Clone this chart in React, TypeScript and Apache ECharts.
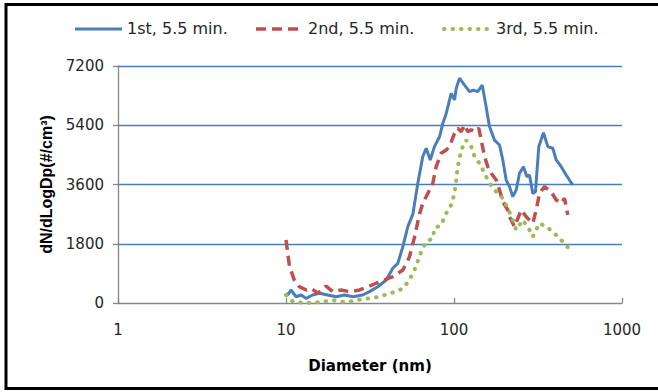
import React, { useEffect, useRef } from "react";
import * as echarts from "echarts";

const seriesNames = ["1st, 5.5 min.", "2nd, 5.5 min.", "3rd, 5.5 min."];
const xTickLabels = ["1", "10", "100", "1000"];
const yTicks = [0, 1800, 3600, 5400, 7200];

const diam1 = [10.0, 10.25, 10.7, 11.5, 12.3, 13.2, 14.4, 15.8, 17.7, 19.9, 22.3, 25.0, 28.6, 31.4, 35.2, 39.5, 43.2, 46.3, 49.6, 53.1, 56.9, 60.9, 65.2, 68.3, 72.2, 76.5, 82.0, 85.8, 89.9, 96.2, 100.7, 103.1, 107.8, 115.5, 123.7, 130.7, 138.5, 147.2, 154.0, 162.6, 174.2, 186.6, 195.2, 204.5, 214.0, 223.9, 234.6, 245.5, 259.2, 271.2, 281.4, 294.4, 305.5, 319.7, 341.0, 361.7, 387.4, 405.9, 434.6, 465.4, 486.9, 509.4];
const vals1 = [290, 243, 395, 190, 243, 140, 243, 295, 243, 190, 243, 190, 243, 345, 495, 700, 1055, 1205, 1710, 2320, 2700, 3640, 4450, 4700, 4345, 4750, 5050, 5460, 5760, 6370, 6170, 6520, 6830, 6620, 6420, 6470, 6420, 6620, 6070, 5360, 4950, 4800, 4345, 3735, 3535, 3230, 3435, 3940, 4140, 3840, 3890, 3330, 3380, 4750, 5175, 4750, 4700, 4345, 4140, 3890, 3735, 3585];

const diam2 = [10.0, 10.5, 11.2, 12.0, 13.2, 14.1, 15.5, 17.3, 19.0, 21.3, 23.9, 27.4, 30.7, 34.4, 38.6, 43.2, 49.6, 54.3, 58.2, 62.3, 65.2, 71.5, 74.8, 78.3, 83.9, 89.9, 94.0, 100.7, 105.3, 110.4, 115.5, 120.8, 126.6, 132.4, 140.4, 145.2, 151.9, 158.9, 166.5, 178.3, 186.6, 195.2, 209.0, 214.0, 229.2, 251.2, 269.0, 294.4, 308.5, 322.8, 345.7, 379.0, 405.9, 434.6, 454.7, 475.7];
const vals2 = [1915, 1100, 700, 495, 395, 445, 295, 515, 345, 395, 345, 395, 495, 600, 700, 800, 1000, 1400, 2000, 2700, 3030, 3435, 3640, 4140, 4550, 4650, 4750, 5155, 5310, 5205, 5410, 5205, 5260, 5205, 5310, 4950, 4450, 4140, 3940, 3735, 3435, 3080, 2825, 2620, 2320, 2825, 2620, 2420, 2825, 3330, 3535, 3380, 3130, 3030, 3180, 2675];

const diam3 = [10.0, 11.0, 12.6, 14.4, 16.6, 19.0, 21.3, 23.9, 28.0, 31.4, 36.0, 41.3, 45.3, 49.6, 54.3, 58.2, 63.8, 68.3, 74.8, 76.5, 83.9, 89.9, 96.2, 100.7, 103.1, 105.3, 110.4, 118.2, 126.6, 132.4, 141.8, 151.9, 162.6, 174.2, 195.2, 209.0, 223.9, 234.6, 256.7, 281.4, 294.4, 322.8, 353.9, 387.4, 414.9, 465.4, 498.4];
const vals3 = [243, 40, 10, 10, 40, 90, 40, 40, 110, 140, 190, 295, 345, 445, 700, 1000, 1560, 1860, 1965, 2270, 2370, 2725, 2980, 3330, 3735, 4140, 4650, 4950, 4750, 4450, 4245, 3940, 3640, 3435, 3180, 2880, 2520, 2220, 2520, 2220, 2015, 2420, 2320, 2165, 2015, 1760, 1560];

const colors = ["#4a7ebb", "#c0504d", "#9bbb59"];

function zip(xs: number[], ys: number[]) {
  return xs.map((x, i) => [x, ys[i]]);
}

export default function App() {
  const ref = useRef<HTMLDivElement>(null);
  useEffect(() => {
    if (!ref.current) return;
    const chart = echarts.init(ref.current, null, { renderer: "svg" });
    const font = "DejaVu Sans";
    const lineStyles = [
      { width: 3 },
      { width: 3.5, type: [10, 6] as number[] },
      { width: 4, type: [0.5, 8] as number[], cap: "round" },
    ];
    const legendX = [75, 256, 444];
    const legendGraphics: any[] = [];
    seriesNames.forEach((n, i) => {
      const ls: any = lineStyles[i];
      legendGraphics.push({
        type: "line",
        shape: { x1: legendX[i], y1: 29, x2: legendX[i] + 47, y2: 29 },
        style: {
          stroke: colors[i],
          lineWidth: ls.width,
          lineDash: ls.type ?? null,
          lineCap: ls.cap ?? "butt",
        },
        silent: true,
      });
      legendGraphics.push({
        type: "text",
        x: legendX[i] + 52,
        y: 28,
        style: {
          text: n,
          fontFamily: font,
          fontSize: 16,
          fill: "#262626",
          verticalAlign: "middle",
          align: "left",
        },
        silent: true,
      });
    });
    chart.setOption({
      animation: false,
      backgroundColor: "#ffffff",
      textStyle: { fontFamily: font },
      grid: { left: 118, right: 36, top: 66, bottom: 89 },
      xAxis: {
        type: "log",
        logBase: 10,
        min: 1,
        max: 1000,
        name: "Diameter (nm)",
        nameLocation: "middle",
        nameGap: 55,
        nameTextStyle: { fontFamily: font, fontSize: 15, fontWeight: "bold", color: "#000" },
        axisLine: { show: true, lineStyle: { color: "#868686", width: 1.3 } },
        axisTick: { show: true, inside: true, length: 5, lineStyle: { color: "#868686", width: 1.3 } },
        minorTick: { show: false },
        splitLine: { show: false },
        axisLabel: {
          margin: 19,
          fontFamily: font,
          fontSize: 15,
          color: "#262626",
          formatter: (v: number) => {
            const idx = Math.round(Math.log10(v));
            return xTickLabels[idx] ?? String(v);
          },
        },
      },
      yAxis: {
        type: "value",
        min: yTicks[0],
        max: yTicks[yTicks.length - 1],
        interval: 1800,
        name: "dN/dLogDp(#/cm³)",
        nameLocation: "middle",
        nameGap: 64,
        nameTextStyle: { fontFamily: "Liberation Sans", fontSize: 16, fontWeight: "bold", color: "#000" },
        axisLine: { show: true, lineStyle: { color: "#868686", width: 1.3 } },
        axisTick: { show: true, inside: false, length: 5, lineStyle: { color: "#868686", width: 1.3 } },
        splitLine: { show: true, showMinLine: false, lineStyle: { color: "#4a7ebb", width: 1.3 } },
        axisLabel: {
          margin: 14,
          fontFamily: font,
          fontSize: 15,
          color: "#262626",
          formatter: (v: number) => String(v),
        },
      },
      series: [
        {
          name: seriesNames[0],
          type: "line",
          data: zip(diam1, vals1),
          symbol: "none",
          color: colors[0],
          lineStyle: { color: colors[0], ...lineStyles[0] },
          z: 3,
        },
        {
          name: seriesNames[1],
          type: "line",
          data: zip(diam2, vals2),
          symbol: "none",
          color: colors[1],
          lineStyle: { color: colors[1], ...lineStyles[1] },
          z: 4,
        },
        {
          name: seriesNames[2],
          type: "line",
          data: zip(diam3, vals3),
          symbol: "none",
          color: colors[2],
          lineStyle: { color: colors[2], ...lineStyles[2] },
          z: 5,
        },
      ],
      graphic: [
        ...legendGraphics,
        {
          type: "rect",
          shape: { x: 6, y: 4.5, width: 700, height: 384 },
          style: { fill: "none", stroke: "#000", lineWidth: 3 },
          silent: true,
          z: 100,
        },
      ],
    });
    return () => chart.dispose();
  }, []);
  return (
    <div
      ref={ref}
      style={{ position: "fixed", left: 0, top: 0, width: 658, height: 392, background: "#fff" }}
    />
  );
}
